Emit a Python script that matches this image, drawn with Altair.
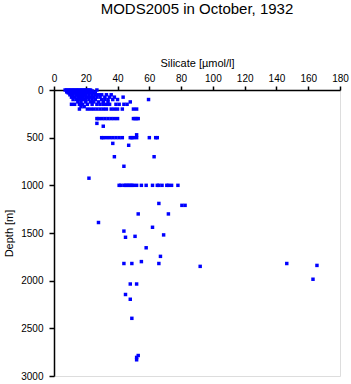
import altair as alt
import pandas as pd

# (depth m, silicate umol/l)
depth_levels = [0, 10, 20, 25, 30, 50, 75, 100, 125, 150, 175, 200, 300, 350, 380, 470, 500,
                560, 580, 700, 800, 925, 1000, 1190, 1210, 1300, 1390, 1440, 1480, 1520,
                1535, 1545, 1655, 1745, 1800, 1820, 1840, 1850, 1985, 2035, 2145, 2195,
                2395, 2785, 2805, 2830]
silicate_at_level = [
    [7, 8, 9, 10, 11, 12, 13, 14, 15, 16, 17, 18, 19, 20, 21, 22, 23, 27],
    [8, 9, 10, 11, 12, 13, 14, 15, 16, 17, 18, 19, 20, 21, 22, 24],
    [8, 10, 11, 12, 13, 14, 15, 16, 17, 18, 19, 20, 22, 25],
    [9, 11, 13, 15, 17, 19, 21, 23],
    [9, 10, 12, 13, 14, 15, 16, 18, 20, 22, 24, 26],
    [10, 11, 12, 14, 15, 16, 17, 18, 19, 20, 22, 24, 26, 28, 30, 33, 36],
    [11, 13, 15, 16, 17, 18, 20, 21, 23, 25, 27, 29, 32, 35, 38, 43.5],
    [12, 14, 16, 18, 19, 20, 22, 24, 26, 30, 32, 34, 37, 40, 59.5],
    [15, 17, 20, 23, 25, 28, 31, 34, 48],
    [11, 13, 16, 18, 21, 24, 27, 29, 31, 33, 35, 39, 41, 44, 46],
    [17, 19],
    [16, 21, 23, 25, 27, 29, 31, 33, 36, 38, 40, 43, 50, 52],
    [27, 28, 30, 32, 34, 36, 38, 40, 50, 51, 52, 53],
    [27],
    [31],
    [52],
    [30, 31, 33, 35, 37, 39, 41, 43, 48, 49, 50, 52, 60, 64, 65],
    [37],
    [47],
    [38, 63],
    [44],
    [22],
    [41, 42, 44, 45, 46, 47, 48, 49, 50, 52, 55, 58, 62, 65, 66, 68, 71, 72, 74, 78],
    [66],
    [80.5, 82.5],
    [53, 72],
    [28],
    [62],
    [44],
    [69],
    [51],
    [45],
    [58],
    [67],
    [55],
    [44, 49, 66, 146.5],
    [165.5],
    [92],
    [163],
    [48, 52],
    [45],
    [48],
    [49],
    [53],
    [52],
    [52],
]

rows = []
for d, sis in zip(depth_levels, silicate_at_level):
    for s in sis:
        rows.append({"depth": d, "silicate": s})
df = pd.DataFrame(rows)

x_ticks = [0, 20, 40, 60, 80, 100, 120, 140, 160, 180]
y_ticks = [0, 500, 1000, 1500, 2000, 2500, 3000]

font = "Liberation Sans"

chart = alt.Chart(df).mark_square(size=12, color="#0000FF", opacity=1).encode(
    x=alt.X("silicate:Q",
            scale=alt.Scale(domain=[0, 180], nice=False, zero=False),
            axis=alt.Axis(orient="top", title="Silicate [µmol/l]", values=x_ticks,
                          format="d",
                          grid=False, domainColor="black", tickColor="black",
                          tickSize=4, labelPadding=3, titlePadding=5,
                          labelFont=font, titleFont=font, labelFontSize=10,
                          titleFontSize=11, titleFontWeight="normal",
                          labelColor="black", titleColor="black",
                          domainWidth=1.5, tickWidth=1.5, labelFlush=False)),
    y=alt.Y("depth:Q",
            scale=alt.Scale(domain=[0, 3000], nice=False, zero=False, reverse=True),
            axis=alt.Axis(orient="left", title="Depth [m]", values=y_ticks,
                          format="d",
                          grid=False, domainColor="black", tickColor="black",
                          tickSize=5, labelPadding=6, titlePadding=6,
                          labelFont=font, titleFont=font, labelFontSize=10,
                          titleFontSize=11, titleFontWeight="normal",
                          labelColor="black", titleColor="black",
                          domainWidth=1.5, tickWidth=1.5, labelFlush=False)),
).properties(
    width=286,
    height=286,
    autosize=alt.AutoSizeParams(type="none"),
    padding={"left": 54, "top": 90, "right": 11, "bottom": 8},
    title=alt.Title("MODS2005 in October, 1932", font=font, fontSize=15,
                    fontWeight="normal", color="black", anchor="middle", offset=40),
).configure_view(strokeWidth=0).configure(background="white")

chart.save("out.html", embed_options={"renderer": "svg", "actions": False})
